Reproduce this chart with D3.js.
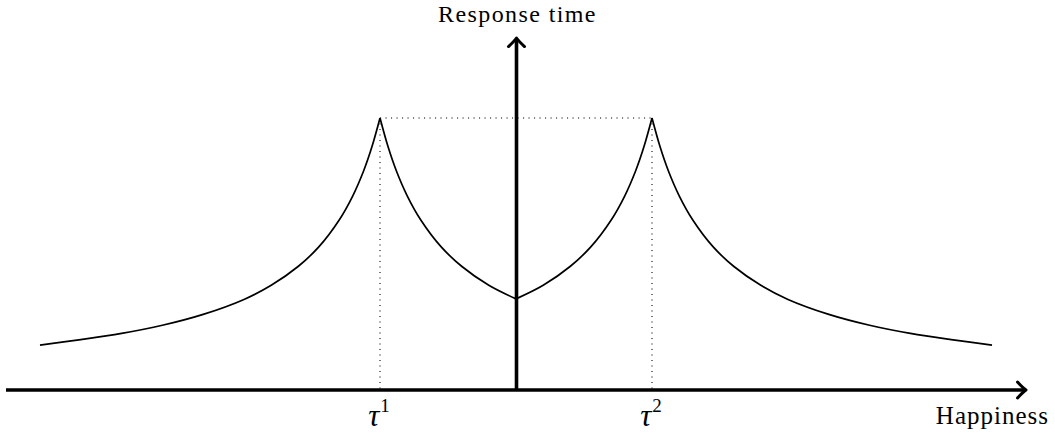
<!DOCTYPE html>
<html>
<head>
<meta charset="utf-8">
<script src="https://cdn.jsdelivr.net/npm/d3@7"></script>
<style>
  html, body { margin: 0; padding: 0; background: #fff; }
  svg { display: block; }
  text { font-family: "Liberation Serif", "DejaVu Serif", serif; fill: #000; }
</style>
</head>
<body>
<div id="wrapper"></div>
<script>
// data (x: tau units, tau1=-1, tau2=1 ; y: response time, peak = 1)
const leftOuterX  = [-3.5, -3.2, -2.9, -2.6, -2.3, -2.0, -1.8, -1.6, -1.45, -1.3, -1.2, -1.12, -1.06, -1.0]
const leftOuterY  = [0.165, 0.185, 0.208, 0.238, 0.278, 0.333, 0.385, 0.455, 0.526, 0.625, 0.714, 0.806, 0.893, 1.0]
const leftInnerX  = [-1.0, -0.94, -0.88, -0.8, -0.7, -0.55, -0.4, -0.2, 0]
const leftInnerY  = [1.0, 0.893, 0.806, 0.714, 0.625, 0.526, 0.455, 0.385, 0.335]
const rightInnerX = [0, 0.2, 0.4, 0.55, 0.7, 0.8, 0.88, 0.94, 1.0]
const rightInnerY = [0.335, 0.385, 0.455, 0.526, 0.625, 0.714, 0.806, 0.893, 1.0]
const rightOuterX = [1.0, 1.06, 1.12, 1.2, 1.3, 1.45, 1.6, 1.8, 2.0, 2.3, 2.6, 2.9, 3.2, 3.5]
const rightOuterY = [1.0, 0.893, 0.806, 0.714, 0.625, 0.526, 0.455, 0.385, 0.333, 0.278, 0.238, 0.208, 0.185, 0.165]

const tauPositions = [-1, 1]
const tauLabels = ["1", "2"]
const peakValue = 1.0

const xLabel = "Happiness"
const yLabel = "Response time"

function drawChart(){
    let dimensions = {
        width: 1055,
        height: 436,
    }

    const wrapper = d3.select("#wrapper")
                        .append("svg")
                        .attr("width", dimensions.width)
                        .attr("height", dimensions.height)

    // scales
    const xScale = d3.scaleLinear()
                        .domain([-3.75, 3.75])
                        .range([6, 1026])

    const yScale = d3.scaleLinear()
                        .domain([0, 1])
                        .range([390, 118])

    const yTop = 1.294

    // dotted guides
    const guides = wrapper.append("g")
                        .attr("stroke", "#000")
                        .attr("stroke-width", 1.1)
                        .attr("stroke-dasharray", "1.1,4.4")
                        .attr("fill", "none")

    guides.append("line")
        .attr("x1", xScale(tauPositions[0]))
        .attr("x2", xScale(tauPositions[1]))
        .attr("y1", yScale(peakValue))
        .attr("y2", yScale(peakValue))

    guides.selectAll(".vguide")
        .data(tauPositions)
        .enter()
        .append("line")
        .attr("class", "vguide")
        .attr("x1", d => xScale(d))
        .attr("x2", d => xScale(d))
        .attr("y1", yScale(peakValue))
        .attr("y2", yScale(0))

    // curve, drawn as four branches so the peaks stay sharp
    const branches = [
        d3.zip(leftOuterX, leftOuterY),
        d3.zip(leftInnerX, leftInnerY),
        d3.zip(rightInnerX, rightInnerY),
        d3.zip(rightOuterX, rightOuterY),
    ]

    const lineGenerator = d3.line()
                            .x(d => xScale(d[0]))
                            .y(d => yScale(d[1]))
                            .curve(d3.curveCatmullRom.alpha(0.5))

    wrapper.append("g")
        .selectAll("path")
        .data(branches)
        .enter()
        .append("path")
        .attr("d", lineGenerator)
        .attr("fill", "none")
        .attr("stroke", "#000")
        .attr("stroke-width", 1.7)
        .attr("stroke-linejoin", "round")

    // axes
    const axes = wrapper.append("g")
                        .attr("stroke", "#000")
                        .attr("stroke-width", 3.6)
                        .attr("fill", "none")
                        .attr("stroke-linecap", "butt")

    const x0 = xScale(0) + 0.5, y0 = yScale(0)
    const xEnd = xScale(3.75), yEnd = yScale(yTop)

    axes.append("line")
        .attr("x1", xScale(-3.75)).attr("x2", xEnd - 1.5)
        .attr("y1", y0).attr("y2", y0)

    axes.append("line")
        .attr("x1", x0).attr("x2", x0)
        .attr("y1", y0).attr("y2", yEnd + 1.5)

    // open "to" arrow heads
    axes.append("path")
        .attr("stroke-width", 3.0)
        .attr("stroke-linecap", "round")
        .attr("stroke-linejoin", "round")
        .attr("d", `M${xEnd - 8.5},${y0 - 8} Q${xEnd - 3},${y0 - 2} ${xEnd},${y0} Q${xEnd - 3},${y0 + 2} ${xEnd - 8.5},${y0 + 8}`)

    axes.append("path")
        .attr("stroke-width", 3.0)
        .attr("stroke-linecap", "round")
        .attr("stroke-linejoin", "round")
        .attr("d", `M${x0 - 8},${yEnd + 8.5} Q${x0 - 2},${yEnd + 3} ${x0},${yEnd} Q${x0 + 2},${yEnd + 3} ${x0 + 8},${yEnd + 8.5}`)

    // labels
    wrapper.append("text")
        .attr("x", 517.5)
        .attr("y", 22)
        .attr("text-anchor", "middle")
        .style("font-size", "24px")
        .style("letter-spacing", "1.4px")
        .text(yLabel)

    wrapper.append("text")
        .attr("x", 1049)
        .attr("y", 424)
        .attr("text-anchor", "end")
        .style("font-size", "25px")
        .style("letter-spacing", "1px")
        .text(xLabel)

    const tauText = wrapper.selectAll(".tau")
        .data(tauPositions)
        .enter()
        .append("text")
        .attr("class", "tau")
        .attr("x", d => xScale(d) - 1)
        .attr("y", 426)
        .attr("text-anchor", "middle")
        .style("font-size", "31px")

    tauText.append("tspan")
        .style("font-style", "italic")
        .text("τ")

    tauText.append("tspan")
        .attr("dy", -14)
        .attr("dx", 1)
        .style("font-size", "19px")
        .text((d, i) => tauLabels[i])
}
drawChart()
</script>
</body>
</html>
